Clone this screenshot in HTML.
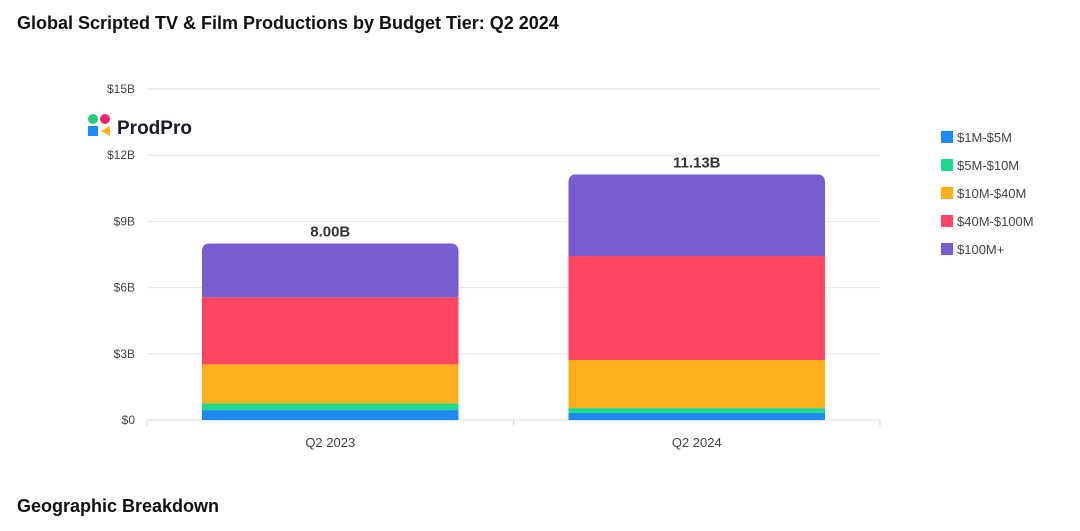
<!DOCTYPE html>
<html><head><meta charset="utf-8">
<style>
body{margin:0;background:#fff;width:1080px;height:531px;overflow:hidden;font-family:"Liberation Sans",sans-serif;}
.t{position:absolute;left:17px;font-weight:bold;font-size:18px;color:#111;}
</style></head>
<body>
<div class="t" style="top:13px">Global Scripted TV &amp; Film Productions by Budget Tier: Q2 2024</div>
<div class="t" style="top:496px">Geographic Breakdown</div>
<svg id="c" width="1080" height="531" style="position:absolute;left:0;top:0">
<g>
<circle cx="93" cy="119" r="5" fill="#1fce7a"/><circle cx="105" cy="119" r="5" fill="#f0266b"/>
<rect x="88" y="126" width="10" height="10" fill="#1e88ff"/><polygon points="110,126 110,136 101,131" fill="#ffb020"/>
<text x="117" y="134" font-size="19" font-weight="bold" fill="#1a1a2e">ProdPro</text></g>
</svg>
<script>
const categories=["Q2 2023","Q2 2024"];
const tiers=["$1M-$5M","$5M-$10M","$10M-$40M","$40M-$100M","$100M+"];
const colors=["#1e88ff","#1ed98a","#ffae1c","#ff4560","#775dd0"];
const v1to5=[0.45,0.32];
const v5to10=[0.30,0.22];
const v10to40=[1.77,2.18];
const v40to100=[3.04,4.71];
const v100plus=[2.44,3.70];
const totals=["8.00B","11.13B"];
const yTicks=[0,3,6,9,12,15];
const series=[v1to5,v5to10,v10to40,v40to100,v100plus];
const svg=document.getElementById('c');const NS='http://www.w3.org/2000/svg';
const x0=147,x1=880,yB=420,yT=89,ymax=15;
const y=v=>yB-(yB-yT)*v/ymax;
const band=(x1-x0)/categories.length;
function mk(t,a){const e=document.createElementNS(NS,t);for(const k in a)e.setAttribute(k,a[k]);svg.appendChild(e);return e;}
yTicks.forEach(t=>{
 const l=mk('line',{x1:x0,x2:x1,y1:y(t),y2:y(t),stroke:t?'#e4e4e4':'#d8d8d8'});
 
 
 const tx=mk('text',{x:135,y:y(t)+4,'text-anchor':'end','font-size':12,fill:'#444'});tx.textContent='$'+t+(t?'B':'');
 
 
});
[x0,x0+band,x1].forEach(xx=>{mk('line',{x1:xx,x2:xx,y1:yB,y2:yB+6,stroke:'#d8d8d8'});});
categories.forEach((c,i)=>{
 const bx=x0+band*i+band*0.15,bw=band*0.7;let acc=0;
 const g=mk('g',{});
 const cp=mk('clipPath',{id:'cp'+i});
 let tot=series.reduce((s,a)=>s+a[i],0);
 const r=document.createElementNS(NS,'path');
 const top=y(tot),rr=8;
 r.setAttribute('d',`M${bx},${yB}V${top+rr}Q${bx},${top} ${bx+rr},${top}H${bx+bw-rr}Q${bx+bw},${top} ${bx+bw},${top+rr}V${yB}Z`);
 cp.appendChild(r);
 series.forEach((s,k)=>{
  const rect=mk('rect',{x:bx,width:bw,y:y(acc+s[i]),height:y(acc)-y(acc+s[i]),fill:colors[k],'clip-path':'url(#cp'+i+')'});
  
  
  acc+=s[i];
 });
 const tl=mk('text',{x:bx+bw/2,y:top-7,'text-anchor':'middle','font-size':15,'font-weight':'bold',fill:'#333'});tl.textContent=totals[i];
 
 
 const xl=mk('text',{x:x0+band*(i+0.5),y:447,'text-anchor':'middle','font-size':13,fill:'#444'});xl.textContent=c;
 
 
});
tiers.forEach((t,k)=>{
 const yy=137+k*28;
 const m=mk('rect',{x:941,y:yy-6,width:12,height:12,fill:colors[k]});
 
 
 const tx=mk('text',{x:957,y:yy+5,'font-size':13,fill:'#444'});tx.textContent=t;
 
 
});
</script>
</body></html>
